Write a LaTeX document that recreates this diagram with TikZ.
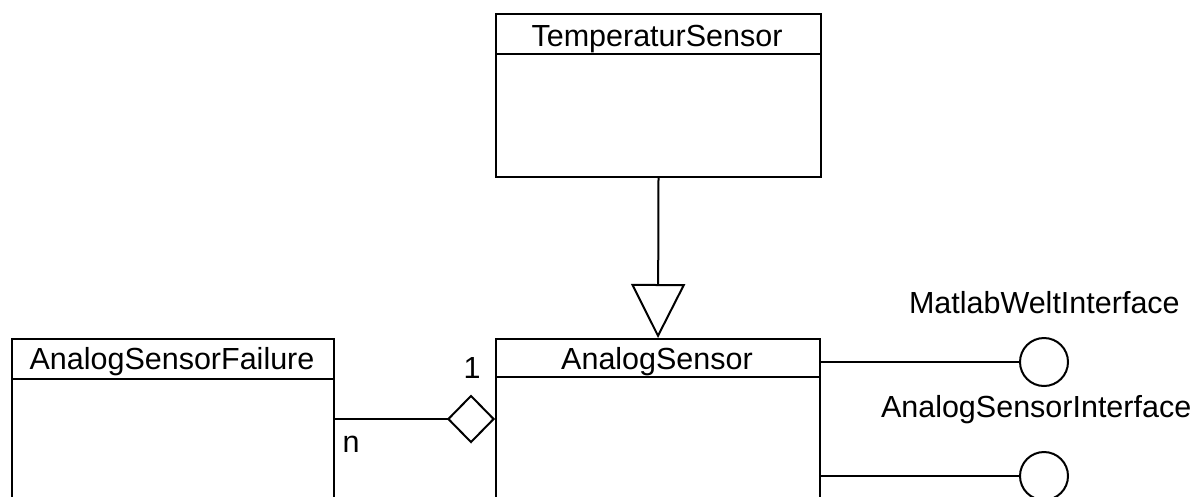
\documentclass[tikz,border=0pt]{standalone}
\usepackage{fontspec}
\setmainfont{Liberation Sans}
\usetikzlibrary{arrows.meta}
\begin{document}
\begin{tikzpicture}[x=1pt,y=-1pt,line width=2pt,
  classbox/.style={draw,rectangle,inner sep=0,anchor=north west},
  lbl/.style={inner sep=0,font=\fontsize{30.5}{36}\selectfont},
  iface/.style={draw,circle,minimum size=48pt,inner sep=0},
  inherit/.style={-{Triangle[open,length=54pt,width=54pt]}},
  aggr/.style={-{Diamond[open,length=48pt,width=49pt]}}]
\useasboundingbox (0,0) rectangle (1197,496);
\clip (0,0) rectangle (1197,496);
% classes
\node[classbox,minimum width=325pt,minimum height=163pt] (ts) at (495,13) {};
\draw (495,54) -- (820,54);
\node[lbl,anchor=base] (tst) at (657,46) {TemperaturSensor};
\node[classbox,minimum width=324pt,minimum height=200pt] (as) at (495,338) {};
\draw (495,377) -- (819,377);
\node[lbl,anchor=base] (ast) at (657,369) {AnalogSensor};
\node[classbox,minimum width=322pt,minimum height=200pt] (asf) at (11,338) {};
\draw (11,379) -- (333,379);
\node[lbl,anchor=base] (asft) at (172,369) {AnalogSensorFailure};
% interfaces
\node[iface] (mw) at (1044,362) {};
\node[iface] (asi) at (1044,476) {};
\node[lbl,anchor=base west] (mwt) at (908,313) {MatlabWeltInterface};
\node[lbl,anchor=base west] (asit) at (880,417) {AnalogSensorInterface};
% connectors
\draw[inherit] (ts.south) -- (as.north);
\coordinate (agg) at (495,419);
\draw[aggr] (asf.east |- agg) -- (agg);
\draw (as.east |- mw) -- (mw.west);
\draw (as.east |- asi) -- (asi.west);
% multiplicities
\node[lbl,anchor=base] (m1) at (472,378) {1};
\node[lbl,anchor=base] (mn) at (351,452) {n};
\end{tikzpicture}
\end{document}
